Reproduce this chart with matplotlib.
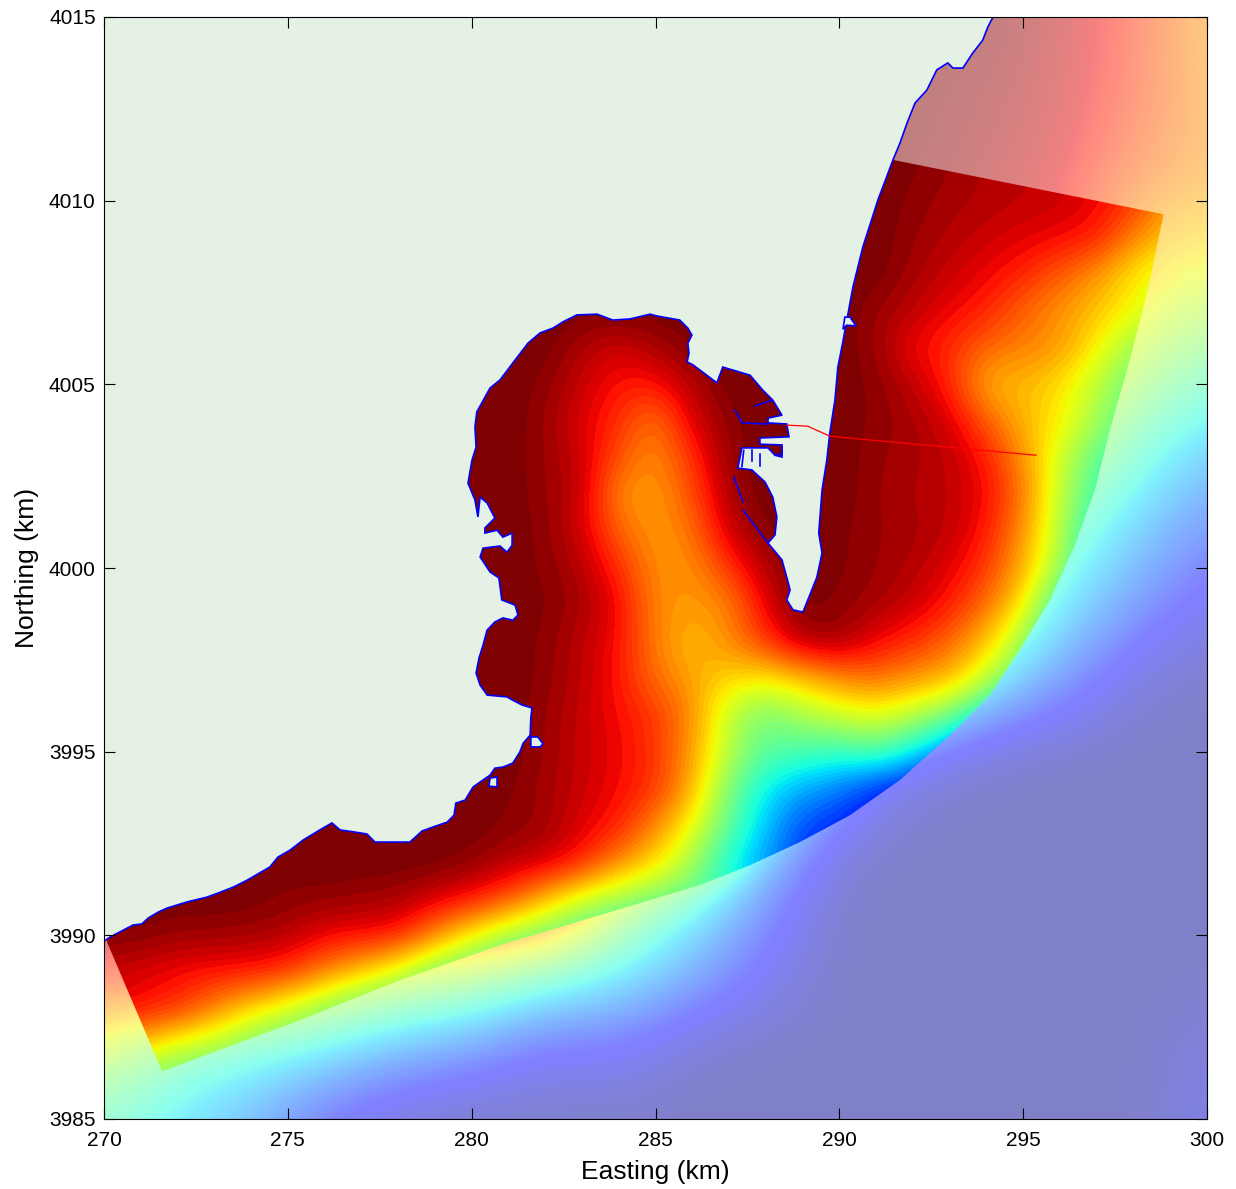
#!/usr/bin/env python3

import numpy as np
import matplotlib
matplotlib.use('Agg')
import matplotlib.pyplot as plt
from matplotlib.patches import Polygon

plt.rcParams['font.family'] = ['Liberation Sans', 'DejaVu Sans']

# Inner (model) grid: colour level 0-1, every 1 km, x = 270..300
inner_north = np.arange(4012, 3984, -1)
inner_levels = np.array([
    [1]*23 + [.98, .95, .94, .93, .91, .88, .78, .72],                                                   # 4012
    [1]*22 + [.99, .97, .95, .94, .93, .92, .89, .80, .72],                                               # 4011
    [1]*22 + [.98, .96, .95, .94, .93, .90, .85, .74, .68],                                               # 4010
    [1]*22 + [.97, .95, .93, .91, .90, .88, .77, .70, .64],                                               # 4009
    [1]*22 + [.96, .93, .90, .87, .81, .75, .66, .60, .55],                                               # 4008
    [1]*21 + [.97, .94, .90, .87, .80, .75, .70, .64, .60, .52],                                          # 4007
    [1]*13 + [.95, .92, .96, .99, 1, 1, 1, 1, .97, .89, .86, .80, .77, .75, .65, .55, .48, .42],          # 4006
    [1]*12 + [.98, .93, .88, .88, .95, 1, 1, 1, 1, .98, .94, .87, .71, .71, .67, .58, .48, .42, .36],     # 4005
    [1]*12 + [.97, .91, .86, .77, .92, .98, 1, 1, 1, .98, .96, .92, .81, .71, .66, .55, .45, .38, .32],   # 4004
    [1]*12 + [.97, .93, .82, .75, .85, .98, 1, 1, 1, .97, .96, .94, .88, .75, .60, .47, .38, .32, .28],   # 4003
    [1]*12 + [.97, .94, .75, .74, .82, .96, 1, 1, 1, .97, .95, .94, .90, .78, .58, .44, .34, .28, .24],   # 4002
    [1]*12 + [.98, .92, .80, .74, .78, .93, .99, 1, .99, .97, .96, .94, .88, .75, .57, .38, .30, .24, .20],  # 4001
    [1]*12 + [.98, .95, .86, .75, .75, .85, .95, 1, .99, .97, .95, .91, .85, .72, .55, .34, .28, .22, .18],  # 4000
    [1]*12 + [.99, .96, .90, .76, .74, .76, .91, 1, .98, .96, .93, .88, .79, .66, .42, .30, .25, .20, .18],  # 3999
    [1]*12 + [.98, .94, .89, .77, .70, .76, .85, .96, .97, .90, .86, .80, .70, .55, .33, .28, .20, .18, .15],  # 3998
    [1]*12 + [.98, .94, .88, .79, .73, .68, .66, .70, .76, .79, .75, .72, .60, .45, .30, .20, .15, .12, .12],  # 3997
    [1]*12 + [.97, .93, .89, .85, .76, .58, .49, .56, .60, .63, .58, .50, .36, .22, .15, .12, .10, .08, .08],  # 3996
    [1]*12 + [.97, .93, .90, .85, .74, .57, .46, .44, .42, .46, .37, .24, .15, .15, .12, .10, .10, .10, .10],  # 3995
    [1]*11 + [.99, .96, .93, .89, .86, .72, .50, .36, .30, .25, .17, .12, .10, .10, .10, .10, .10, .10, .10, .10],  # 3994
    [1]*11 + [.98, .97, .91, .88, .76, .64, .47, .32, .20, .17, .12, .10, .10, .10, .10, .10, .10, .10, .10, .10],  # 3993
    [1]*10 + [.98, .95, .93, .88, .76, .68, .55, .38, .28, .18, .12, .10, .10, .10, .10, .10, .10, .10, .10, .10, .10],  # 3992
    [1]*5 + [.98, .98, .97, .96, .92, .89, .82, .71, .60, .55, .50, .47, .40, .30, .20, .10, .10, .10, .10, .10, .10, .10, .10, .10, .10, .10],  # 3991
    [.99, .99, .97, .97, .96, .95, .90, .89, .88, .76, .64, .55, .50, .45, .40, .35, .30, .25, .20, .10, .10, .10, .10, .10, .10, .10, .10, .10, .10, .10, .10],  # 3990
    [.93, .91, .89, .88, .88, .85, .77, .69, .60, .50, .46, .40, .40, .35, .30, .30, .25, .20, .20, .10, .10, .10, .10, .10, .10, .10, .10, .10, .10, .10, .10],  # 3989
    [.91, .89, .86, .77, .67, .60, .52, .46, .45, .40, .40, .40, .40, .35, .30, .30, .25, .20, .20, .10, .10, .10, .10, .10, .10, .10, .10, .10, .10, .10, .10],  # 3988
    [.75, .68, .60, .56, .50, .46, .45, .45, .45, .40, .40, .40, .40, .35, .30, .30, .25, .20, .20, .10, .10, .10, .10, .10, .10, .10, .10, .10, .10, .10, .10],  # 3987
    [.60, .50, .46, .45, .45, .45, .45, .45, .45, .40, .40, .40, .40, .35, .30, .30, .25, .20, .20, .10, .10, .10, .10, .10, .10, .10, .10, .10, .10, .10, .10],  # 3986
    [.60, .50, .46, .45, .45, .45, .45, .45, .45, .40, .40, .40, .40, .35, .30, .30, .25, .20, .20, .10, .10, .10, .10, .10, .10, .10, .10, .10, .10, .10, .10],  # 3985
])

# Outer (faded) grid: every 2 km, x = 270, 272 .. 300
outer_north = np.arange(4015, 3984, -2)
outer_levels = np.array([
    [1]*13 + [.95, .87, .73],
    [1]*12 + [.98, .94, .86, .74],
    [1]*12 + [.96, .93, .82, .75],
    [1]*11 + [.98, .95, .90, .72, .68],
    [1]*11 + [.95, .90, .80, .66, .56],
    [1]*11 + [.90, .80, .70, .55, .42],
    [1]*11 + [.85, .75, .60, .42, .27],
    [1]*11 + [.85, .70, .45, .30, .17],
    [1]*11 + [.80, .60, .35, .20, .08],
    [1]*11 + [.70, .38, .20, .05, .02],
    [1]*10 + [.30, .10, .03, .015, .015, .015],
    [1]*9 + [.35, .08, .015, .015, .015, .015, .015],
    [1]*7 + [.60, .38, .17, .015, .015, .015, .015, .015, .015],
    [.90, .85, .80, .72, .64, .58, .45, .36, .24, .10, .015, .015, .015, .015, .015, .02],
    [.62, .47, .42, .36, .26, .20, .10, .12, .03, .015, .015, .015, .015, .015, .015, .06],
    [.42, .33, .24, .10, .03, .015, .015, .015, .015, .015, .015, .015, .015, .015, .015, .08],
])

# Edge of the model grid (km); the left part runs under the land
grid_x = [291.46, 298.82, 298.39, 297.90, 297.36, 296.95, 296.41, 295.73, 294.91, 294.10, 293.01,
          291.65, 290.29, 288.93, 287.57, 286.21, 284.85, 283.49, 280.77, 278.05, 275.33, 271.58,
          270.08, 270.08, 275.00]
grid_y = [4011.11, 4009.63, 4007.57, 4005.66, 4003.76, 4002.12, 4000.63, 3999.13, 3997.77, 3996.54, 3995.45,
          3994.23, 3993.27, 3992.54, 3991.91, 3991.37, 3990.96, 3990.55, 3989.73, 3988.78, 3987.69, 3986.30,
          3989.82, 3991.00, 4007.50]

# Coastline (km), west to east
coast_x = [270.00, 270.16, 270.52, 270.79, 271.03, 271.20, 271.47, 271.71, 272.26, 272.80, 273.10, 273.51,
           273.89, 274.32, 274.51, 274.73, 275.06, 275.41, 275.87, 276.20, 276.42, 276.83, 277.15, 277.37,
           278.32, 278.65, 278.95, 279.33, 279.52, 279.57, 279.82, 280.04, 280.31, 280.50, 280.63, 280.85,
           281.12, 281.31, 281.40, 281.59, 281.61, 281.64, 281.37, 281.12, 280.96, 280.42, 280.23, 280.12,
           280.20, 280.31, 280.42, 280.63, 280.85, 281.12, 281.26, 281.18, 280.82, 280.74, 280.50, 280.23,
           280.31, 280.77, 280.96, 281.10, 281.10, 280.85, 280.69, 280.36, 280.36, 280.63, 280.42, 280.23,
           280.17, 280.09, 279.90, 280.01, 280.12, 280.09, 280.14, 280.50, 280.77, 281.53, 281.86, 282.21,
           282.48, 282.86, 283.41, 283.84, 284.31, 284.85, 285.04, 285.66, 285.88, 285.99, 285.88, 285.91,
           285.86, 286.02, 286.67, 286.83, 287.57, 287.92, 288.19, 288.44, 288.06, 288.06, 288.57, 288.63,
           287.84, 287.84, 288.44, 288.44, 288.25, 288.06, 287.35, 287.24, 287.62, 287.98, 288.19, 288.30,
           288.25, 288.06, 288.44, 288.57, 288.66, 288.57, 288.74, 289.01, 289.25, 289.39, 289.53, 289.44,
           289.53, 289.66, 289.74, 289.88, 289.96, 290.07, 290.37, 290.64, 291.05, 291.46, 291.65, 291.84,
           292.06, 292.38, 292.65, 292.95, 293.09, 293.36, 293.63, 293.90, 294.04, 294.18, 270.00]
coast_y = [3989.84, 3989.95, 3990.14, 3990.28, 3990.31, 3990.47, 3990.63, 3990.74, 3990.91, 3991.04, 3991.15, 3991.31,
           3991.50, 3991.75, 3991.86, 3992.13, 3992.32, 3992.59, 3992.87, 3993.06, 3992.87, 3992.81, 3992.76, 3992.54,
           3992.54, 3992.84, 3992.95, 3993.08, 3993.27, 3993.60, 3993.68, 3994.04, 3994.23, 3994.36, 3994.55, 3994.58,
           3994.69, 3994.99, 3995.23, 3995.45, 3995.94, 3996.19, 3996.27, 3996.40, 3996.49, 3996.54, 3996.81, 3997.14,
           3997.55, 3997.90, 3998.31, 3998.53, 3998.64, 3998.58, 3998.72, 3998.99, 3999.13, 3999.73, 3999.89, 4000.30,
           4000.54, 4000.60, 4000.43, 4000.62, 4000.95, 4000.84, 4001.03, 4000.95, 4001.09, 4001.36, 4001.77, 4001.93,
           4001.39, 4001.85, 4002.31, 4002.94, 4003.29, 4003.84, 4004.25, 4004.90, 4005.12, 4006.12, 4006.40, 4006.53,
           4006.70, 4006.89, 4006.91, 4006.75, 4006.78, 4006.91, 4006.86, 4006.75, 4006.53, 4006.34, 4006.12, 4005.85,
           4005.61, 4005.53, 4005.04, 4005.47, 4005.25, 4004.84, 4004.57, 4004.16, 4004.08, 4003.95, 4003.92, 4003.57,
           4003.54, 4003.37, 4003.35, 4003.02, 4003.07, 4003.27, 4003.27, 4002.72, 4002.67, 4002.34, 4001.93, 4001.39,
           4000.90, 4000.68, 4000.22, 3999.75, 3999.40, 3999.13, 3998.86, 3998.80, 3999.40, 3999.75, 4000.41, 4000.95,
           4002.12, 4002.94, 4003.67, 4004.57, 4005.47, 4006.02, 4007.65, 4008.74, 4010.02, 4011.11, 4011.57, 4012.11,
           4012.66, 4013.01, 4013.56, 4013.75, 4013.61, 4013.61, 4014.02, 4014.37, 4014.73, 4015.00, 4015.00]

# Small islands and harbour works (km)
islands = [
    ([281.61, 281.80, 281.94, 281.86, 281.61], [3995.40, 3995.40, 3995.21, 3995.13, 3995.13]),
    ([280.50, 280.69, 280.69, 280.47], [3994.28, 3994.31, 3994.04, 3994.06]),
    ([290.10, 290.15, 290.29, 290.45, 290.20], [4006.50, 4006.83, 4006.83, 4006.59, 4006.61]),
]
breakwaters = [
    ([287.13, 287.38], [4002.48, 4001.80]),
    ([287.38, 288.03], [4001.58, 4000.71]),
    ([287.16, 287.35, 288.06], [4004.30, 4003.95, 4003.92]),
    ([287.70, 288.17], [4004.41, 4004.57]),
    ([287.40, 287.35], [4003.20, 4002.76]),
    ([287.62, 287.62], [4003.20, 4002.90]),
    ([287.85, 287.85], [4003.10, 4002.78]),
    ([288.25, 288.44, 288.44], [4003.07, 4003.10, 4003.30]),
]

# Transect
transect_x = [288.57, 289.14, 289.74, 290.56, 295.35]
transect_y = [4003.89, 4003.86, 4003.59, 4003.51, 4003.07]

land_colour = '#e5f1e4'

fig = plt.figure(figsize=(12.36, 11.89), dpi=100)
ax = fig.add_axes([104/1236, 70/1189, 1103/1236, 1102/1189])

# faded background field
ax.imshow(outer_levels, cmap='jet', vmin=0, vmax=1, alpha=0.5, aspect='auto',
          extent=(269, 301, outer_north[-1] - 1, outer_north[0] + 1),
          interpolation='bicubic', interpolation_stage='data', zorder=0.5)

# model domain, banded jet clipped to the grid edge
im = ax.imshow(inner_levels, cmap=plt.get_cmap('jet', 64), vmin=0, vmax=1, aspect='auto',
               extent=(269.5, 300.5, inner_north[-1] - 0.5, inner_north[0] + 0.5),
               interpolation='bicubic', interpolation_stage='data', zorder=1)
im.set_clip_path(Polygon(np.column_stack([grid_x, grid_y]), closed=True, transform=ax.transData))

# land and coast
ax.fill(coast_x, coast_y, facecolor=land_colour, edgecolor='#0000ff', linewidth=1.2, zorder=1.5)
for ix, iy in islands:
    ax.fill(ix, iy, facecolor=land_colour, edgecolor='#0000ff', linewidth=1.2, zorder=1.5)
for bx, by in breakwaters:
    ax.plot(bx, by, color='#0000ff', linewidth=1.2, zorder=1.6)

ax.plot(transect_x, transect_y, color='#ff0000', linewidth=0.9, zorder=1.7)

ax.set_xlim(270, 300)
ax.set_ylim(3985, 4015)
ax.set_xticks(np.arange(270, 301, 5))
ax.set_yticks(np.arange(3985, 4016, 5))
ax.set_axisbelow(False)
ax.tick_params(direction='in', length=8, width=0.8, top=True, right=True, labelsize=15)
ax.tick_params(axis='x', pad=9)
ax.tick_params(axis='y', pad=6)
ax.set_xlabel('Easting (km)', fontsize=19, labelpad=7)
ax.set_ylabel('Northing (km)', fontsize=19, labelpad=7)

fig.savefig('out.png', dpi=100)
